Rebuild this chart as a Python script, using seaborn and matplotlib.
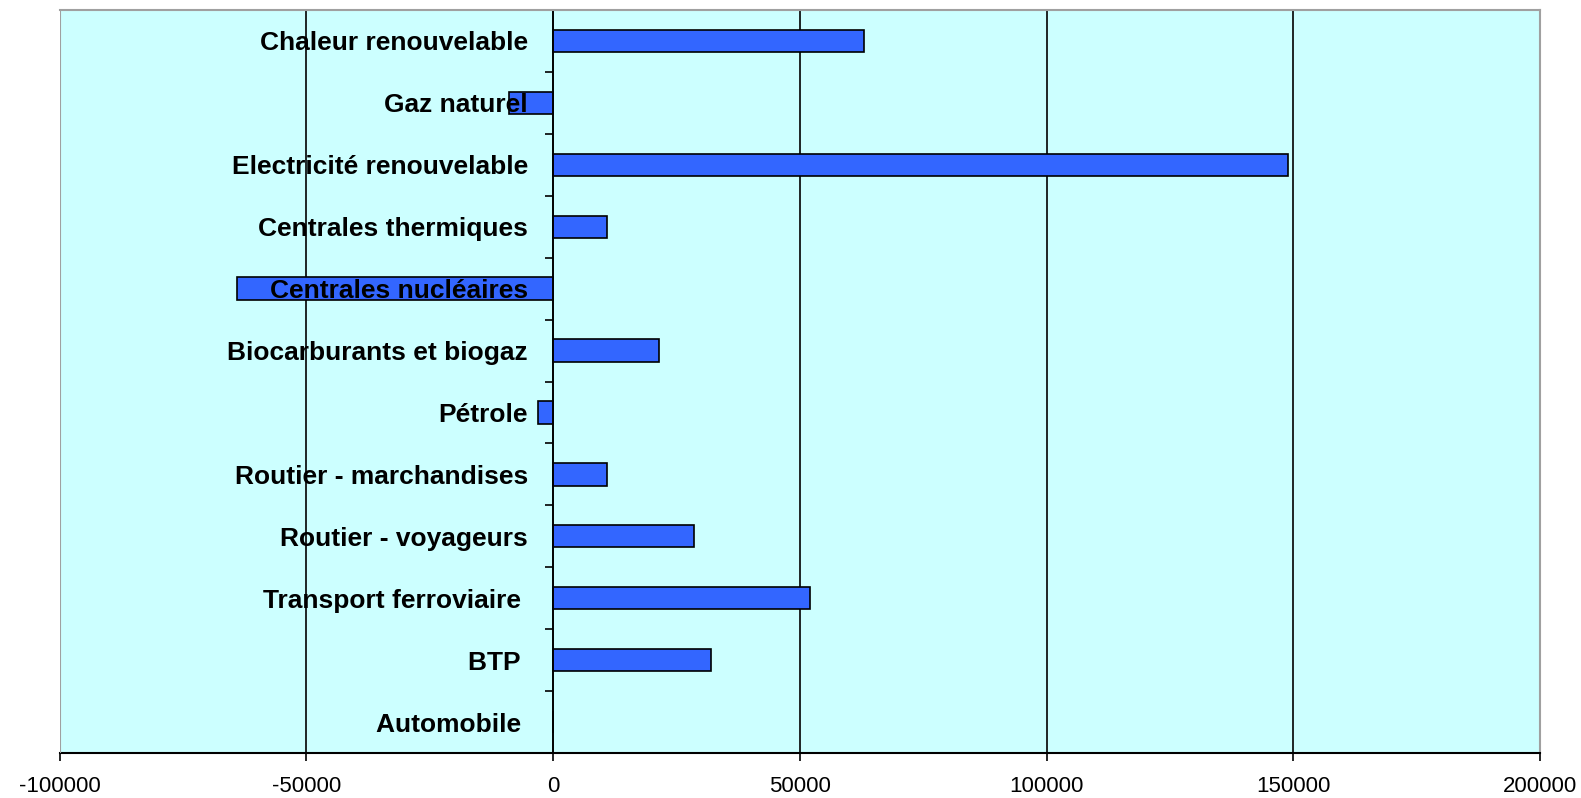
import numpy as np
import pandas as pd
import seaborn as sns
import matplotlib.pyplot as plt
from matplotlib.ticker import FixedLocator

# données
categories = ['Chaleur renouvelable', 'Gaz naturel', 'Electricité renouvelable',
              'Centrales thermiques', 'Centrales nucléaires', 'Biocarburants et biogaz',
              'Pétrole', 'Routier - marchandises', 'Routier - voyageurs',
              'Transport ferroviaire ', 'BTP ', 'Automobile ']
valeurs = [63000, -9000, 149000, 11000, -64000, 21500, -3000, 11000, 28500, 52000, 32000, 0]
x_ticks = [-100000, -50000, 0, 50000, 100000, 150000, 200000]

df = pd.DataFrame({'cat': categories, 'val': valeurs})

sns.set_style('white')
plt.rcParams['font.family'] = ['Liberation Sans', 'DejaVu Sans']
plt.rcParams['text.color'] = 'black'
plt.rcParams['xtick.color'] = 'black'
plt.rcParams['ytick.color'] = 'black'

fig = plt.figure(figsize=(15.81, 7.98), dpi=100)
ax = fig.add_axes([59.5 / 1581, 1 - 753 / 798, (1540 - 59.5) / 1581, (753 - 10) / 798])
ax.set_facecolor('#CCFFFF')

sns.barplot(data=df, x='val', y='cat', orient='h', color='#3366FF',
            edgecolor='black', linewidth=1.2, width=0.36, saturation=1, ax=ax)

ax.set_xlim(x_ticks[0], x_ticks[-1])
ax.set_ylim(len(categories) - 0.5, -0.5)
ax.set_xlabel('')
ax.set_ylabel('')
ax.set_axisbelow(False)

# quadrillage vertical
for xv in x_ticks[1:-1]:
    ax.axvline(xv, color='black', lw=1.2, zorder=0.5)

# axe des catégories placé sur le zéro
ax.spines['left'].set_position(('data', 0))
ax.spines['left'].set_color('black')
ax.spines['left'].set_linewidth(1.2)
ax.spines['bottom'].set_color('black')
ax.spines['bottom'].set_linewidth(1.5)
for s in ['top', 'right']:
    ax.spines[s].set_color('#A0A0A0')
    ax.spines[s].set_linewidth(1.5)
ax.axvline(x_ticks[0], color='#A0A0A0', lw=1.5, zorder=3)

ax.set_xticks(x_ticks)
ax.set_xticklabels([str(v) for v in x_ticks], fontsize=16)
ax.tick_params(axis='x', direction='out', length=5.5, width=1.2, pad=11, bottom=True)

ax.yaxis.set_minor_locator(FixedLocator(np.arange(0.5, len(categories) - 1, 1)))
ax.tick_params(axis='y', which='major', length=0, pad=18)
ax.tick_params(axis='y', which='minor', direction='out', length=6, width=1.2, left=True)
for lab in ax.get_yticklabels():
    lab.set_fontweight('bold')
    lab.set_fontsize(19)

fig.savefig('out.png', dpi=100)
